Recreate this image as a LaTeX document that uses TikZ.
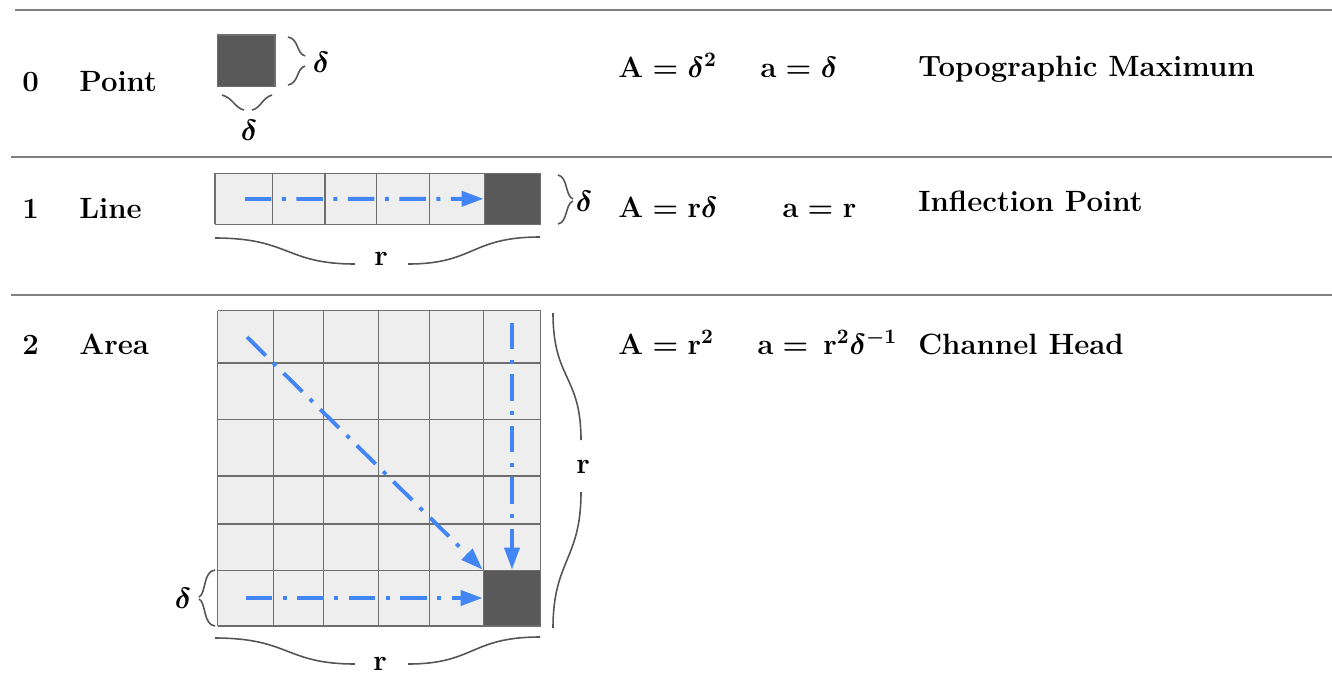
\RequirePackage{fix-cm}
\documentclass[tikz,border=0pt]{standalone}
\usepackage{amsmath,amssymb,xcolor}
\definecolor{flowblue}{RGB}{66,133,244}
\definecolor{cellfill}{RGB}{238,238,238}
\definecolor{celledge}{RGB}{110,110,110}
\definecolor{sinkfill}{RGB}{89,89,89}
\definecolor{rulegray}{RGB}{128,128,128}
\definecolor{bracegray}{RGB}{85,85,85}
\usetikzlibrary{arrows.meta,calc}

\begin{document}
\begin{tikzpicture}[x=0.02cm, y=-0.02cm,
  lbl/.style={font=\fontsize{16.7}{19}\selectfont\bfseries, anchor=base west, inner sep=0pt},
  frm/.style={lbl, execute at begin node=\boldmath},
  sym/.style={font=\fontsize{16.7}{19}\selectfont\bfseries, inner sep=0pt, execute at begin node=\boldmath},
  sink/.style={fill=sinkfill, draw=celledge, line width=0.8pt, inner sep=0pt},
  grid/.style={celledge, line width=0.9pt},
  brc/.style={bracegray, line width=0.9pt},
  flow/.style={flowblue, line width=2.2pt, dash pattern=on 15pt off 6pt on 2.3pt off 6pt,
    -{Triangle[length=12.5pt,width=8.5pt]}}]
  \useasboundingbox (0,0) rectangle (1332,677);
  % Table rules
  \draw[rulegray, line width=1.1pt] (15,10) -- (1332,10);
  \draw[rulegray, line width=1.1pt] (11,157) -- (1332,157);
  \draw[rulegray, line width=1.1pt] (11,295) -- (1332,295);

  % Row 0: point
  \node[lbl] (n0) at (22,91) {0};
  \node[lbl] (pt) at (79,91) {Point};
  \node[sink, minimum width=1.154cm, minimum height=1.034cm] (pk0) at (246.2,60.9) {};
  \draw[brc] (288,37) .. controls (299,39) and (296,53) .. (305,56);
  \draw[brc] (305,66) .. controls (296,69) and (299,83) .. (288,85);
  \node[sym] (d0r) at (321,62) {$\delta$};
  \draw[brc] (222,95) .. controls (233,98) and (235,108) .. (244,110);
  \draw[brc] (252,110) .. controls (261,108) and (262,98) .. (272,95);
  \node[sym] (d0b) at (249,130) {$\delta$};
  \node[frm] (A0) at (618,77) {$\mathrm{A}=\delta^{2}$};
  \node[frm] (a0) at (760,77) {$\mathrm{a}=\delta$};
  \node[lbl] (nm0) at (918,76) {Topographic Maximum};

  % Row 1: line
  \node[lbl] (n1) at (22,218) {1};
  \node[lbl] (ln) at (79,218) {Line};
  \fill[cellfill] (215,173.3) rectangle (540.7,224.3);
  \foreach \x in {215,272.7,325,376.7,429.3}
    \draw[grid] (\x,173.3) -- (\x,224.3);
  \draw[grid] (215,173.3) -- (540.7,173.3) (215,224.3) -- (540.7,224.3);
  \node[sink, minimum width=1.128cm, minimum height=1.02cm] (pk1) at (512.5,198.8) {};
  \coordinate (s1) at (245,199);
  \draw[flow] (s1) -- (pk1.west);
  \draw[brc] (558,175) .. controls (568,177) and (565,196) .. (573,199);
  \draw[brc] (573,201) .. controls (565,204) and (568,222) .. (558,224);
  \node[sym] (d1r) at (584,201) {$\delta$};
  \draw[brc] (215,238) .. controls (290,238) and (285,264) .. (355,264);
  \draw[brc] (408,264) .. controls (475,264) and (470,237) .. (540,237);
  \node[sym] (r1b) at (381,259) {r};
  \node[frm] (A1) at (618,217) {$\mathrm{A}=\mathrm{r}\delta$};
  \node[frm] (a1) at (782,217) {$\mathrm{a}=\mathrm{r}$};
  \node[lbl] (nm1) at (918,211) {Inflection Point};

  % Row 2: area
  \node[lbl] (n2) at (22,354) {2};
  \node[lbl] (ar) at (79,354) {Area};
  \fill[cellfill] (217.7,310.5) rectangle (540.7,625.7);
  \foreach \x in {217.7,273.3,323.3,378.3,429.3,483.3,540.7}
    \draw[grid] (\x,310.5) -- (\x,625.7);
  \foreach \y in {310.5,362.7,419.3,476,523.7,570.3,625.7}
    \draw[grid] (217.7,\y) -- (540.7,\y);
  \node[sink, minimum width=1.148cm, minimum height=1.108cm] (pk2) at (512,598) {};
  \coordinate (s2h) at (246,598);
  \coordinate (s2d) at (247,337);
  \coordinate (s2v) at (512,323);
  \draw[flow] (s2d) -- (pk2.north west);
  \draw[flow] (s2v) -- (pk2.north);
  \draw[flow] (s2h) -- (pk2.west);
  \draw[brc] (215,570) .. controls (203,571) and (206,594) .. (199,597);
  \draw[brc] (199,599) .. controls (206,602) and (203,625) .. (215,626);
  \node[sym] (d2l) at (183,598) {$\delta$};
  \draw[brc] (553,313) .. controls (553,380) and (581,375) .. (581,440);
  \draw[brc] (581,492) .. controls (581,560) and (553,560) .. (553,628);
  \node[sym] (r2r) at (583,467) {r};
  \draw[brc] (215,638) .. controls (290,638) and (285,664) .. (355,664);
  \draw[brc] (408,664) .. controls (475,664) and (470,637) .. (540,637);
  \node[sym] (r2b) at (380,664) {r};
  \node[frm] (A2) at (618,354) {$\mathrm{A}=\mathrm{r}^{2}$};
  \node[frm] (a2) at (757,354) {$\mathrm{a}=\,\mathrm{r}^{2}\delta^{-1}$};
  \node[lbl] (nm2) at (918,354) {Channel Head};
\end{tikzpicture}
\end{document}
